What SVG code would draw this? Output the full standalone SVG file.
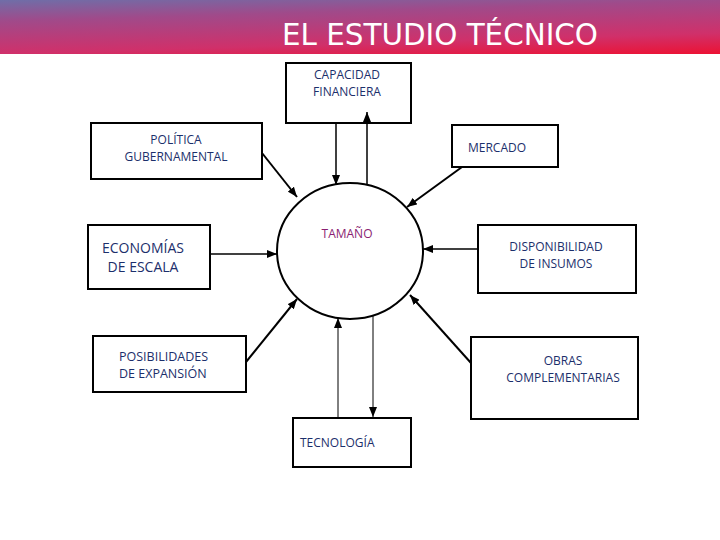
<svg xmlns="http://www.w3.org/2000/svg" width="720" height="540" viewBox="0 0 720 540">
<defs>
<linearGradient id="hdr" gradientUnits="userSpaceOnUse" x1="0" y1="0" x2="2.2" y2="76">
<stop offset="0" stop-color="#6f6ea8"/>
<stop offset="0.28" stop-color="#a04a8a"/>
<stop offset="0.71" stop-color="#d0306a"/>
<stop offset="1" stop-color="#ee1030"/>
</linearGradient>
<marker id="ah" viewBox="0 0 10 8" refX="10" refY="4" markerWidth="10" markerHeight="8" markerUnits="userSpaceOnUse" orient="auto">
<path d="M0,0 L10,4 L0,8 Z" fill="#000"/>
</marker>
</defs>
<style>
.box{fill:#fff;stroke:#000;stroke-width:2}
.t{font-family:"Open Sans","Noto Sans","DejaVu Sans",sans-serif;font-size:12px;fill:#1c2f6b;text-anchor:middle}
.c{fill:none;stroke:#000;marker-end:url(#ah)}
.thick{stroke-width:2}
.mid{stroke-width:1.5}
.thin{stroke-width:1}
</style>
<rect width="720" height="540" fill="#fff"/>
<rect x="0" y="0" width="720" height="54" fill="url(#hdr)"/>
<text x="440" y="45" font-family="'DejaVu Sans Condensed','DejaVu Sans',Verdana,sans-serif" font-stretch="condensed" font-size="31" fill="#fff" text-anchor="middle" textLength="316" lengthAdjust="spacingAndGlyphs">EL ESTUDIO TÉCNICO</text>

<g id="tamano">
<ellipse cx="350" cy="251" rx="73" ry="68" fill="none" stroke="#000" stroke-width="2"/>
<text class="t" x="347" y="238" style="fill:#8a1e72">TAMAÑO</text>
</g>

<g id="capacidad">
<rect class="box" x="286" y="63" width="125" height="60"/>
<text class="t" x="347" y="79">CAPACIDAD</text>
<text class="t" x="347" y="96">FINANCIERA</text>
</g>

<g id="politica">
<rect class="box" x="91" y="123" width="171" height="56"/>
<text class="t" x="176" y="144">POLÍTICA</text>
<text class="t" x="176" y="161">GUBERNAMENTAL</text>
</g>

<g id="mercado">
<rect class="box" x="452" y="125" width="106" height="42"/>
<text class="t" x="497" y="152">MERCADO</text>
</g>

<g id="disponibilidad">
<rect class="box" x="478" y="225" width="158" height="68"/>
<text class="t" x="556" y="251">DISPONIBILIDAD</text>
<text class="t" x="556" y="268">DE INSUMOS</text>
</g>

<g id="economias">
<rect class="box" x="88" y="225" width="122" height="64"/>
<text class="t" x="143" y="253" style="font-size:14px">ECONOMÍAS</text>
<text class="t" x="143" y="272" style="font-size:14px">DE ESCALA</text>
</g>

<g id="posibilidades">
<rect class="box" x="93" y="336" width="153" height="56"/>
<text class="t" x="119" y="361" style="font-size:12.5px;text-anchor:start">POSIBILIDADES</text>
<text class="t" x="119" y="378" style="font-size:12.5px;text-anchor:start">DE EXPANSIÓN</text>
</g>

<g id="obras">
<rect class="box" x="471" y="337" width="167" height="82"/>
<text class="t" x="563" y="365">OBRAS</text>
<text class="t" x="563" y="382">COMPLEMENTARIAS</text>
</g>

<g id="tecnologia">
<rect class="box" x="293" y="418" width="118" height="49"/>
<text class="t" x="300" y="447" style="text-anchor:start">TECNOLOGÍA</text>
</g>

<g id="connectors">
<line class="c thick" x1="262" y1="153" x2="297" y2="197"/>
<line class="c mid" x1="336" y1="123" x2="336" y2="185"/>
<line class="c mid" x1="367" y1="185" x2="367" y2="112"/>
<line class="c thick" x1="462" y1="167" x2="407" y2="207"/>
<line class="c mid" x1="478" y1="249" x2="423" y2="249"/>
<line class="c mid" x1="210" y1="254" x2="277" y2="254"/>
<line class="c thick" x1="246" y1="362" x2="297" y2="299"/>
<line class="c thick" x1="471" y1="363" x2="410" y2="295"/>
<line class="c thin" x1="338" y1="418" x2="338" y2="318"/>
<line class="c thin" x1="373" y1="316" x2="373" y2="417"/>
</g>
</svg>
